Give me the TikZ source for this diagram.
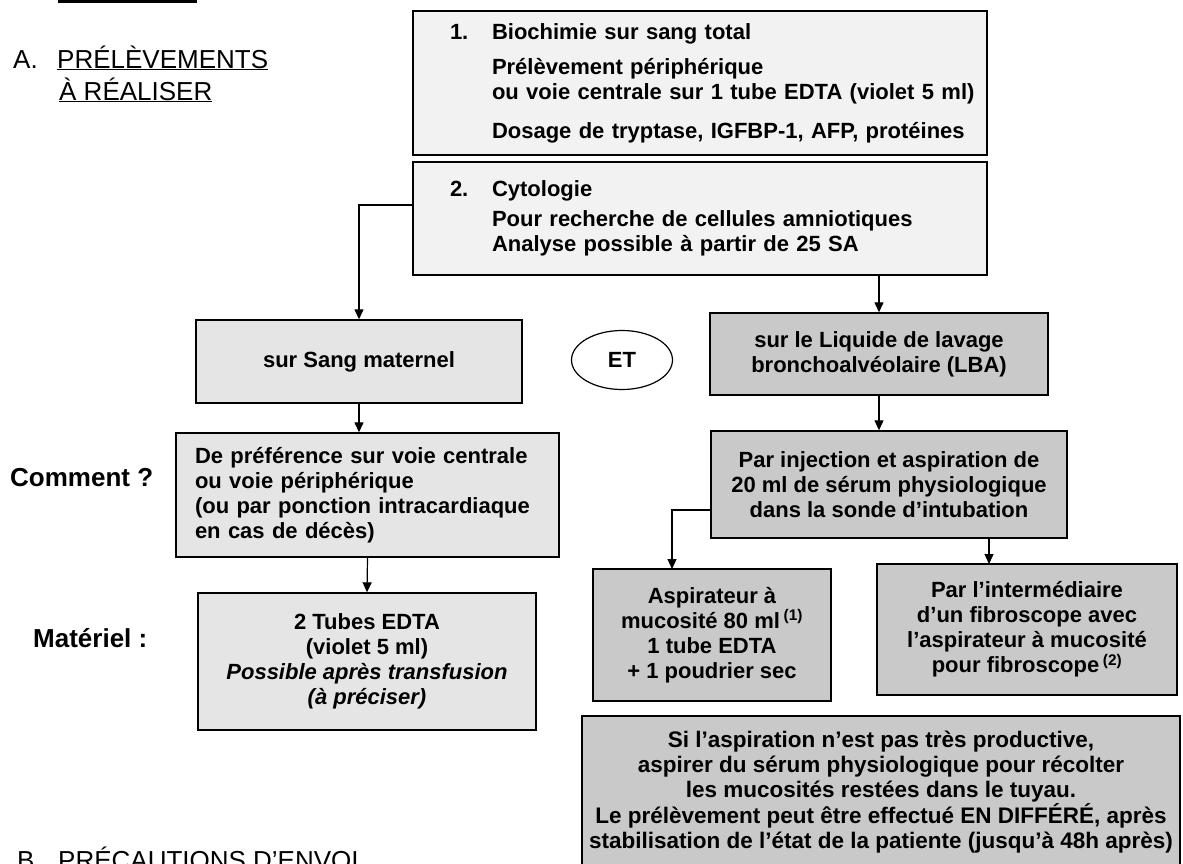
\documentclass[tikz,border=0pt]{standalone}
\usepackage{fontspec}
\setmainfont{Liberation Sans}
\usetikzlibrary{arrows.meta,shapes.geometric}

\begin{document}
\begin{tikzpicture}[
  x=1pt, y=-1pt,
  box/.style={draw, line width=1.4pt, inner sep=0pt, align=center,
    font=\fontsize{22}{25}\selectfont\bfseries},
  light/.style={box, fill=gray!10},
  mid/.style={box, fill=gray!20},
  dark/.style={box, fill=gray!42},
  head/.style={anchor=base west, inner sep=0pt, font=\fontsize{26}{30}\selectfont},
  side/.style={anchor=base west, inner sep=0pt, font=\fontsize{26}{30}\selectfont\bfseries},
  arr/.style={-{Triangle[width=9pt,length=10pt]}, line width=1.2pt}
]
\useasboundingbox (0,0) rectangle (1183,863);

% bit of the header above
\fill (58,0) rectangle (197,3);

% section titles
\node[head] (titleA) at (13,68) {A.};
\node[head] (titleA1) at (57,68) {\underline{PRÉLÈVEMENTS}};
\node[head] (titleA2) at (59,100) {\underline{À RÉALISER}};
\node[side] (comment) at (10,486) {Comment ?};
\node[side] (materiel) at (33,647) {Matériel :};
\node[head] (titleB) at (17,869) {B.};
\node[head] (titleB1) at (58,869) {\underline{PRÉCAUTIONS D'ENVOI}};

% top boxes
\node[light, minimum width=574, minimum height=144, text width=560, align=left] (bio) at (700,83)
  {\hspace*{30pt}\makebox[42pt][l]{1.}Biochimie sur sang total\\[10pt]
   \hspace*{72pt}Prélèvement périphérique\\
   \hspace*{72pt}ou voie centrale sur 1 tube EDTA (violet 5 ml)\\[14pt]
   \hspace*{72pt}Dosage de tryptase, IGFBP-1, AFP, protéines};
\node[light, minimum width=574, minimum height=113, text width=560, align=left] (cyto) at (700,218.5)
  {\hspace*{30pt}\makebox[42pt][l]{2.}Cytologie\\[5pt]
   \hspace*{72pt}Pour recherche de cellules amniotiques\\
   \hspace*{72pt}Analyse possible à partir de 25 SA};

% left branch
\node[mid, minimum width=326, minimum height=83] (sang) at (359,361.5) {sur Sang maternel};
\node[mid, minimum width=383, minimum height=124, text width=345, align=left] (how) at (367.5,495)
  {De préférence sur voie centrale\\ou voie périphérique\\(ou par ponction intracardiaque\\en cas de décès)};
\node[mid, minimum width=338, minimum height=137] (tubes) at (367,661.5)
  {2 Tubes EDTA\\(violet 5 ml)\\\textit{Possible après transfusion}\\\textit{(à préciser)}};

\node[draw, ellipse, line width=1.2pt, minimum width=101, minimum height=59,
  font=\fontsize{22}{25}\selectfont\bfseries] (et) at (622,360) {ET};

% right branch
\node[dark, minimum width=338, minimum height=82] (lba) at (879,354)
  {sur le Liquide de lavage\\bronchoalvéolaire (LBA)};
\node[dark, minimum width=356, minimum height=107] (inj) at (889,484.5)
  {Par injection et aspiration de\\20 ml de sérum physiologique\\dans la sonde d’intubation};
\node[dark, minimum width=238, minimum height=132] (aspi) at (712,635)
  {Aspirateur à\\mucosité 80 ml\,\textsuperscript{(1)}\\1 tube EDTA\\+ 1 poudrier sec};
\node[dark, minimum width=300, minimum height=131] (fibro) at (1027,629.5)
  {Par l’intermédiaire\\d’un fibroscope avec\\l’aspirateur à mucosité\\pour fibroscope\,\textsuperscript{(2)}};
\node[dark, minimum width=598, minimum height=152,
  font=\fontsize{22.5}{25.2}\selectfont\bfseries] (note) at (881,792)
  {Si l’aspiration n’est pas très productive,\\
   aspirer du sérum physiologique pour récolter\\
   les mucosités restées dans le tuyau.\\
   Le prélèvement peut être effectué EN DIFFÉRÉ, après\\
   stabilisation de l’état de la patiente (jusqu’à 48h après)};

% connectors
\coordinate (cytoL) at (413,205);
\coordinate (injL) at (711,510);
\coordinate (aspiT) at (672,569);
\coordinate (fibroT) at (989,564);
\draw[arr] (cytoL) -| (sang.north);
\draw[arr] (lba.north |- cyto.south) -- (lba.north);
\draw[arr] (sang.south) -- (sang.south |- how.north);
\draw[arr] (how.south) -- (tubes.north);
\draw[arr] (lba.south) -- (lba.south |- inj.north);
\draw[arr] (injL) -| (aspiT);
\draw[arr] (fibroT |- inj.south) -- (fibroT);
\end{tikzpicture}
\end{document}
